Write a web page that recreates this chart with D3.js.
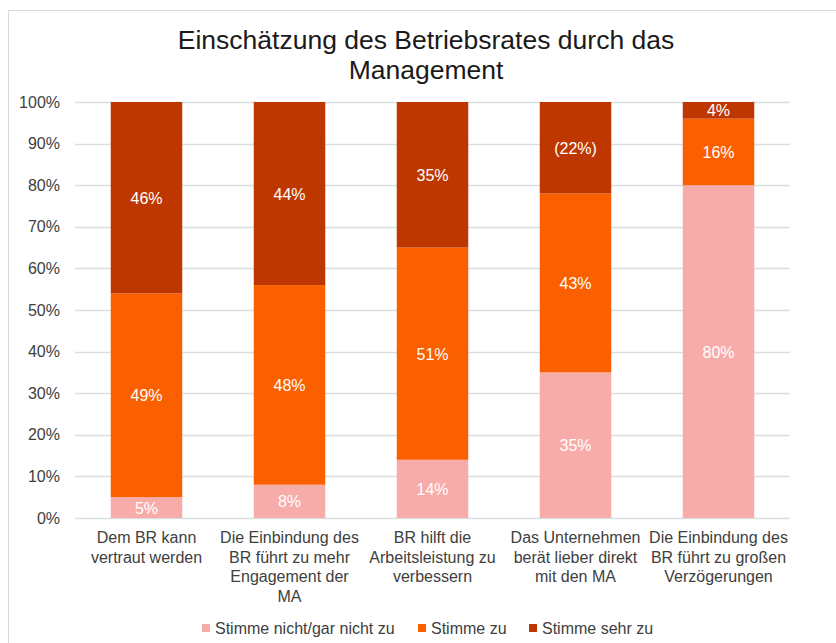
<!DOCTYPE html>
<html>
<head>
<meta charset="utf-8">
<script src="https://cdnjs.cloudflare.com/ajax/libs/d3/7.8.5/d3.min.js"></script>
<style>
  body { margin: 0; background: #fff; }
  svg text { font-family: "Liberation Sans", Arial, sans-serif; }
</style>
</head>
<body>
<div id="chart"></div>
<script>
// chart data
var categories = [
    ["Dem BR kann", "vertraut werden"],
    ["Die Einbindung des", "BR führt zu mehr", "Engagement der", "MA"],
    ["BR hilft die", "Arbeitsleistung zu", "verbessern"],
    ["Das Unternehmen", "berät lieber direkt", "mit den MA"],
    ["Die Einbindung des", "BR führt zu großen", "Verzögerungen"]
];
var seriesNames = ["Stimme nicht/gar nicht zu", "Stimme zu", "Stimme sehr zu"];
var nichtZu = [5, 8, 14, 35, 80];
var stimmeZu = [49, 48, 51, 43, 16];
var sehrZu = [46, 44, 35, 22, 4];
var nichtZuLabels = ["5%", "8%", "14%", "35%", "80%"];
var stimmeZuLabels = ["49%", "48%", "51%", "43%", "16%"];
var sehrZuLabels = ["46%", "44%", "35%", "(22%)", "4%"];
var yTicks = [0, 10, 20, 30, 40, 50, 60, 70, 80, 90, 100];
var colors = ["#F8ACAA", "#FA5F00", "#BF3700"];

var W = 836, H = 643;
var FS = 16;
var svg = d3.select("#chart").append("svg").attr("width", W).attr("height", H);

// outer frame (top + left only visible)
svg.append("path").attr("d", "M8.5," + H + "V10.5H" + W)
    .attr("fill", "none").attr("stroke", "#d9d9d9");

svg.append("text").attr("x", 426).attr("y", 49).attr("text-anchor", "middle")
    .attr("font-size", 26.5).attr("fill", "#1a1a1a")
    .text("Einschätzung des Betriebsrates durch das");
svg.append("text").attr("x", 426).attr("y", 79).attr("text-anchor", "middle")
    .attr("font-size", 26.5).attr("fill", "#1a1a1a")
    .text("Management");

var x = d3.scaleBand().domain(d3.range(categories.length)).range([75, 790]).paddingInner(0.5).paddingOuter(0.25);
var y = d3.scaleLinear().domain([0, 100]).range([518, 102]);

// grid
svg.append("g").selectAll("line").data(yTicks).enter().append("line")
    .attr("x1", 75).attr("x2", 790)
    .attr("y1", function(d) { return Math.round(y(d)) + 0.5; })
    .attr("y2", function(d) { return Math.round(y(d)) + 0.5; })
    .attr("stroke", "#d9dfe0").attr("stroke-width", 1.3);

var yAxis = svg.append("g").attr("transform", "translate(75,0)")
    .call(d3.axisLeft(y).tickValues(yTicks).tickSize(0).tickPadding(15).tickFormat(function(d) { return d + "%"; }));
yAxis.select(".domain").remove();
yAxis.selectAll("text").attr("font-size", FS).attr("fill", "#404040")
    .style("font-family", "Liberation Sans, Arial, sans-serif");

// stacked bars
var rows = categories.map(function(c, i) {
    return {i: i, v0: nichtZu[i], v1: stimmeZu[i], v2: sehrZu[i]};
});
var stack = d3.stack().keys(["v0", "v1", "v2"])(rows);
var labels = [nichtZuLabels, stimmeZuLabels, sehrZuLabels];

stack.forEach(function(layer, k) {
    var g = svg.append("g");
    g.selectAll("rect").data(layer).enter().append("rect")
        .attr("x", function(d, i) { return x(i); })
        .attr("width", x.bandwidth())
        .attr("y", function(d) { return y(Math.min(d[1], 100)); })
        .attr("height", function(d) { return y(d[0]) - y(Math.min(d[1], 100)); })
        .attr("fill", colors[k]);
    g.selectAll("text").data(layer).enter().append("text")
        .attr("x", function(d, i) { return x(i) + x.bandwidth() / 2; })
        .attr("y", function(d) { return (y(d[0]) + y(Math.min(d[1], 100))) / 2 + 6; })
        .attr("text-anchor", "middle").attr("font-size", FS).attr("fill", "#fff")
        .text(function(d, i) { return labels[k][i]; });
});

// category labels
var xAxis = svg.append("g");
categories.forEach(function(lines, i) {
    var t = xAxis.append("text").attr("text-anchor", "middle")
        .attr("x", x(i) + x.bandwidth() / 2).attr("y", 543)
        .attr("font-size", FS).attr("fill", "#404040");
    lines.forEach(function(l, j) {
        t.append("tspan").attr("x", x(i) + x.bandwidth() / 2).attr("dy", j ? 19.5 : 0).text(l);
    });
});

// legend
var legX = [202, 418, 529];
var legend = svg.append("g");
seriesNames.forEach(function(n, k) {
    legend.append("rect").attr("x", legX[k]).attr("y", 624).attr("width", 8).attr("height", 8).attr("fill", colors[k]);
    legend.append("text").attr("x", legX[k] + 13).attr("y", 634)
        .attr("font-size", FS).attr("fill", "#404040").text(n);
});
</script>
</body>
</html>
